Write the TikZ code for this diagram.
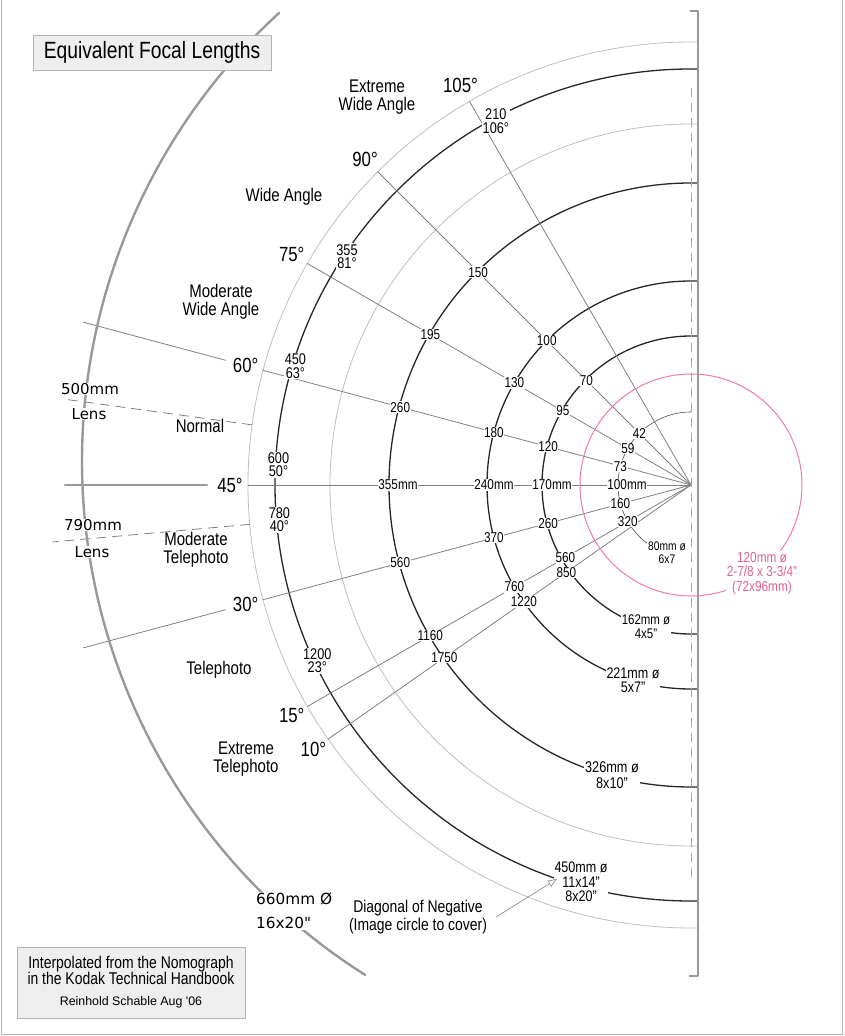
\documentclass[tikz,border=0pt]{standalone}
\usepackage{fontspec}
\setmainfont{Liberation Sans}[FakeStretch=0.82]
\newfontfamily\widefont{DejaVu Sans}
\newfontfamily\plainfont{Liberation Sans}
\usetikzlibrary{arrows.meta}
\definecolor{pinkline}{HTML}{F27BA3}
\definecolor{pinktext}{HTML}{E0628F}
\definecolor{boxfill}{HTML}{EEEEEE}
\begin{document}
\begin{tikzpicture}[x=1pt, y=1pt, line join=round, line cap=round,
	guide/.style={draw=black!25, line width=0.8pt},
	format/.style={draw=black!85, line width=1.3pt},
	ray/.style={draw=black!50, line width=0.8pt},
	edge/.style={draw=black!40, line width=2.2pt},
	lensline/.style={draw=black!50, line width=0.8pt, line cap=butt, dash pattern=on 10pt off 6pt},
	num/.style={font=\fontsize{14.3}{14}\selectfont, fill=white, inner sep=0.6pt},
	arcnum/.style={font=\fontsize{15.5}{13.5}\selectfont, fill=white, inner sep=0.8pt, align=center},
	fmtlabel/.style={font=\fontsize{15.3}{14.5}\selectfont, fill=white, inner sep=1pt, align=center},
	region/.style={font=\fontsize{18.3}{18}\selectfont, align=center, inner sep=0pt},
	deg/.style={font=\fontsize{20.5}{20}\selectfont, inner sep=0pt},
	lens/.style={font=\widefont\fontsize{15}{15}\selectfont, fill=white, inner sep=0.5pt}]
	\useasboundingbox (-691,485) rectangle (153,-551);
	\coordinate (O) at (0,0);
	\coordinate (C660) at (-1,24);
	\draw[black!30, line width=1.5pt, line cap=butt] (-689.5,485) -- (-689.5,-549.5) -- (151.5,-549.5) -- (151.5,485);
	% circles of the formats
	\foreach \r in {443,361}
	\draw[guide] (7,\r) -- (0,\r) arc[start angle=90, end angle=270, radius=\r] -- (7,-\r);
	\foreach \r in {416,302,204,149}
	\draw[format] (7,\r) -- (0,\r) arc[start angle=90, end angle=270, radius=\r] -- (7,-\r);
	\draw[draw=black!70, line width=0.6pt] (0,73) arc[start angle=90, end angle=252, radius=73];
	% angle lines
	\foreach \a in {105,90,75,60,45,30,15,10}
	\draw[ray] (O) -- ({225-\a}:443);
	\draw[ray] (165:482) -- (165:629);
	\draw[ray] (195:482) -- (195:629);
	\draw[edge] (180:484) -- (180:626);
	\draw[lensline] (172.2:443) -- (172.2:629);
	\draw[lensline] (185.1:443) -- (185.1:641);
	\draw[edge, line width=2pt, line cap=butt] (-1,474) -- (7,474) -- (7,-491) -- (-2,-491);
	\draw[black!35, line width=0.8pt, line cap=butt, dash pattern=on 9pt off 6pt] (0,397) -- (0,-397);
	\draw[edge, line width=2.4pt] ([shift={(132.5:608)}]C660) arc[start angle=132.5, end angle=237.7, radius=608];
	\draw[pinkline, line width=1pt] (O) circle[radius=111];
	% focal lengths
	\foreach \a/\p/\q/\s/\t in {90/150/100/70/42, 75/195/130/95/59, 60/260/180/120/73, 30/560/370/260/160, 15/1160/760/560/320}{
		\node[num] (n\a-1) at ({225-\a}:301) {\p};
		\node[num] (n\a-2) at ({225-\a}:204) {\q};
		\node[num] (n\a-3) at ({225-\a}:{\a==15 ? 145 : 148}) {\s};
		\node[num] (n\a-4) at ({225-\a}:73) {\t};
	}
	\node[num] (n10-1) at (215:301) {1750};
	\node[num] (n10-2) at (215:204) {1220};
	\node[num] (n10-3) at (215:152) {850};
	\node[num] (n45-1) at (180:293) {355mm};
	\node[num] (n45-2) at (180:197) {240mm};
	\node[num] (n45-3) at (180:139) {170mm};
	\node[num] (n45-4) at (180:64) {100mm};
	\foreach \g/\p/\q in {118.2/210/106, 146.4/355/81, 163.3/450/63, 177.2/600/50, 184.8/780/40, 205.2/1200/23}
	\node[arcnum] (m\p) at (\g:413) {\p\\\q°};
	% degrees
	\foreach \a in {105,90,75,60,45,30,15,10}
	\node[deg] (d\a) at ({225-\a}:461) {\a°};
	% formats
	\node[fmtlabel, font=\fontsize{12.5}{13}\selectfont] (f80) at (-24,-68) {80mm ø\\6x7};
	\node[fmtlabel, font=\fontsize{14}{14}\selectfont] (f162) at (-45,-142) {162mm ø\\4x5"};
	\node[fmtlabel] (f221) at (-58,-195) {221mm ø\\5x7"};
	\node[fmtlabel, font=\fontsize{15.5}{16}\selectfont] (f326) at (-79,-290) {326mm ø\\8x10"};
	\node[fmtlabel] (f450) at (-110,-397) {450mm ø\\11x14"\\8x20"};
	\node[fmtlabel, font=\fontsize{14.4}{14.5}\selectfont, text=pinktext] (f120) at (71,-88) {120mm ø\\2-7/8 x 3-3/4"\\(72x96mm)};
	% ranges
	\node[region] (xwide) at (-314,388) {Extreme\\Wide Angle};
	\node[region] (wide) at (-407,288) {Wide Angle};
	\node[region] (mwide) at (-470,183) {Moderate\\Wide Angle};
	\node[region] (normal) at (-491,59) {Normal};
	\node[region] (mtele) at (-495,-65) {Moderate\\Telephoto};
	\node[region] (tele) at (-472,-185) {Telephoto};
	\node[region] (xtele) at (-445,-274) {Extreme\\Telephoto};
	\node[lens] (l500) at (-601,96) {500mm};
	\node[lens] (l500b) at (-602,71) {Lens};
	\node[lens] (l790) at (-598,-40) {790mm};
	\node[lens] (l790b) at (-599,-67) {Lens};
	\node[lens, font=\widefont\fontsize{15.3}{24}\selectfont, align=left, anchor=west, inner sep=1pt] (f660) at (-436,-426) {660mm Ø\\16x20"};
	\node[region, font=\fontsize{17}{18}\selectfont] (diag) at (-273,-432) {Diagonal of Negative\\(Image circle to cover)};
	\coordinate (diagtip) at (-134,-394);
	\draw[black!45, line width=0.7pt, -{Triangle[open, length=9pt, width=7pt]}] ([xshift=9pt]diag.east) -- (diagtip);
	% boxes
	\node[draw=black!30, fill=boxfill, line width=0.8pt, minimum width=238pt, minimum height=35pt, font=\fontsize{23.5}{24}\selectfont] (title) at (-539,432.5) {Equivalent Focal Lengths};
	\node[draw=black!30, fill=boxfill, line width=0.8pt, minimum width=228pt, minimum height=71pt, align=center, font=\fontsize{17}{16}\selectfont] (note) at (-560,-497.5) {Interpolated from the Nomograph\\in the Kodak Technical Handbook\\[5pt]\plainfont\fontsize{12.4}{14}\selectfont Reinhold Schable Aug '06};
\end{tikzpicture}
\end{document}
